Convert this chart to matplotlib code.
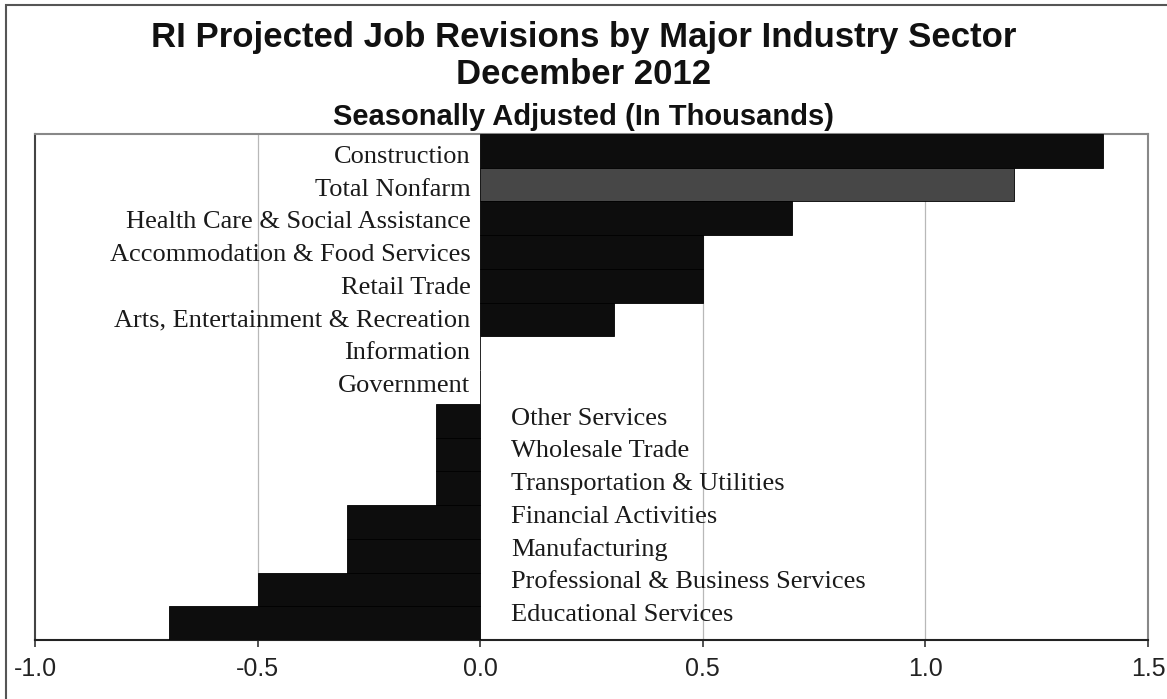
import matplotlib
matplotlib.use("Agg")
import matplotlib.pyplot as plt
from matplotlib.patches import Rectangle

categories = [
    "Construction", "Total Nonfarm", "Health Care & Social Assistance",
    "Accommodation & Food Services", "Retail Trade",
    "Arts, Entertainment & Recreation", "Information", "Government",
    "Other Services", "Wholesale Trade", "Transportation & Utilities",
    "Financial Activities", "Manufacturing",
    "Professional & Business Services", "Educational Services",
]
values = [1.4, 1.2, 0.7, 0.5, 0.5, 0.3, 0.0, 0.0,
          -0.1, -0.1, -0.1, -0.3, -0.3, -0.5, -0.7]
xticks = [-1.0, -0.5, 0.0, 0.5, 1.0, 1.5]
xtick_labels = ["-1.0", "-0.5", "0.0", "0.5", "1.0", "1.5"]

W, H = 1167, 699
fig = plt.figure(figsize=(W / 100, H / 100), dpi=100)
fig.patch.set_facecolor("white")

# outer frame (extends past right and bottom edges)
fig.add_artist(Rectangle((6 / W, -0.05), 1.2, 1.05 - 5 / H,
                         transform=fig.transFigure, fill=False,
                         edgecolor="#555555", linewidth=1.5))

ax = fig.add_axes([35 / W, (H - 640) / H, (1148 - 35) / W, (640 - 134) / H])
n = len(categories)
ypos = list(range(n))
colors = ["#474747" if c == "Total Nonfarm" else "#0d0d0d" for c in categories]
ax.barh(ypos, values, height=1.0, color=colors, edgecolor="#000000",
        linewidth=0.6, zorder=3)
ax.set_ylim(n - 0.5, -0.5)
ax.set_xlim(-1.0, 1.5)
for gx in [-0.5, 0.5, 1.0]:
    ax.axvline(gx, color="#b8b8b8", linewidth=0.9, zorder=1)

serif = ["Liberation Serif", "DejaVu Serif"]
for i, (c, v) in enumerate(zip(categories, values)):
    ly = 0.18 + 0.97 * i
    if v >= 0:
        ax.text(-0.022, ly, c, ha="right", va="center", fontsize=19,
                family=serif, color="#1a1a1a", zorder=4)
    else:
        ax.text(0.07, ly, c, ha="left", va="center", fontsize=19,
                family=serif, color="#1a1a1a", zorder=4)

ax.set_yticks([])
ax.set_xticks(xticks)
ax.set_xticklabels(xtick_labels, family=["Liberation Sans"], fontsize=18,
                   color="#222222")
ax.tick_params(axis="x", direction="out", length=5, width=1.2,
               color="#333333", pad=7)
for s in ["top", "right"]:
    ax.spines[s].set_color("#888888")
    ax.spines[s].set_linewidth(1.5)
ax.spines["left"].set_color("#444444")
ax.spines["left"].set_linewidth(1.5)
ax.spines["bottom"].set_color("#222222")
ax.spines["bottom"].set_linewidth(1.5)

sans = ["Liberation Sans", "DejaVu Sans"]
fig.text(0.5, 1 - 37 / H, "RI Projected Job Revisions by Major Industry Sector",
         ha="center", va="center", fontsize=25, fontweight="bold", family=sans,
         color="#111111")
fig.text(0.5, 1 - 75 / H, "December 2012", ha="center", va="center",
         fontsize=25, fontweight="bold", family=sans, color="#111111")
fig.text(0.5, 1 - 117 / H, "Seasonally Adjusted (In Thousands)", ha="center",
         va="center", fontsize=21, fontweight="bold", family=sans,
         color="#111111")

fig.savefig("out.png", dpi=100)
